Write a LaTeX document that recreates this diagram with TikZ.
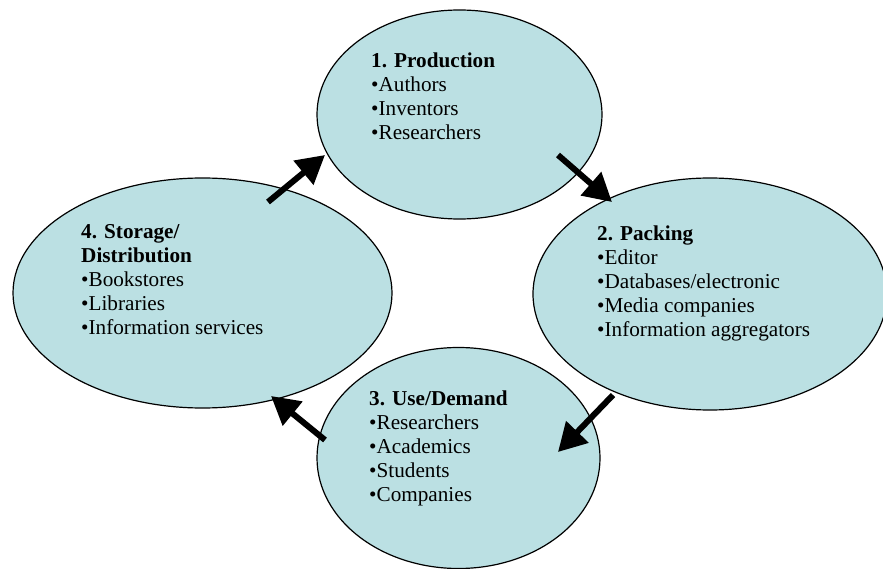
\documentclass[tikz,border=0pt]{standalone}
\usepackage{fontspec}
\setmainfont{Liberation Serif}
\usetikzlibrary{shapes.geometric,arrows.meta,positioning}
\definecolor{paleblue}{RGB}{187,224,227}
\tikzstyle{stage} = [ellipse, draw=black, line width=1.2pt, fill=paleblue, inner sep=0pt]
\tikzstyle{stagetext} = [anchor=north west, align=left, inner sep=0pt, font=\fontsize{21.2}{24}\selectfont]
\tikzstyle{bigarrow} = [line width=6pt, -{Triangle[length=28pt,width=30pt]}]

\begin{document}
\begin{tikzpicture}[x=1pt,y=-1pt]
\useasboundingbox (0,0) rectangle (883,569);
\node (prod) at (459.5,114.5) [stage, minimum width=285pt, minimum height=209pt] {};
\node (pack) at (710,294) [stage, minimum width=354pt, minimum height=232pt] {};
\node (use) at (458.5,458) [stage, minimum width=283pt, minimum height=221pt] {};
\node (store) at (202.5,293) [stage, minimum width=379pt, minimum height=230pt] {};
% texts
\node (prodtxt) at (371,53) [stagetext] {\textbf{1. Production}\\•Authors\\•Inventors\\•Researchers};
\node (packtxt) at (597,226) [stagetext] {\textbf{2. Packing}\\•Editor\\•Databases/electronic\\•Media companies\\•Information aggregators};
\node (usetxt) at (369,391) [stagetext] {\textbf{3. Use/Demand}\\•Researchers\\•Academics\\•Students\\•Companies};
\node (storetxt) at (81,224) [stagetext] {\textbf{4. Storage/}\\\textbf{Distribution}\\•Bookstores\\•Libraries\\•Information services};
% arrows
\coordinate (a1) at (268,202);
\coordinate (b1) at (325,155);
\coordinate (a2) at (558,155);
\coordinate (b2) at (612,202);
\coordinate (a3) at (613,395);
\coordinate (b3) at (558,452);
\coordinate (a4) at (325,440);
\coordinate (b4) at (271,396);
\draw[bigarrow] (a1) -- (b1);
\draw[bigarrow] (a2) -- (b2);
\draw[bigarrow] (a3) -- (b3);
\draw[bigarrow] (a4) -- (b4);
\end{tikzpicture}
\end{document}
